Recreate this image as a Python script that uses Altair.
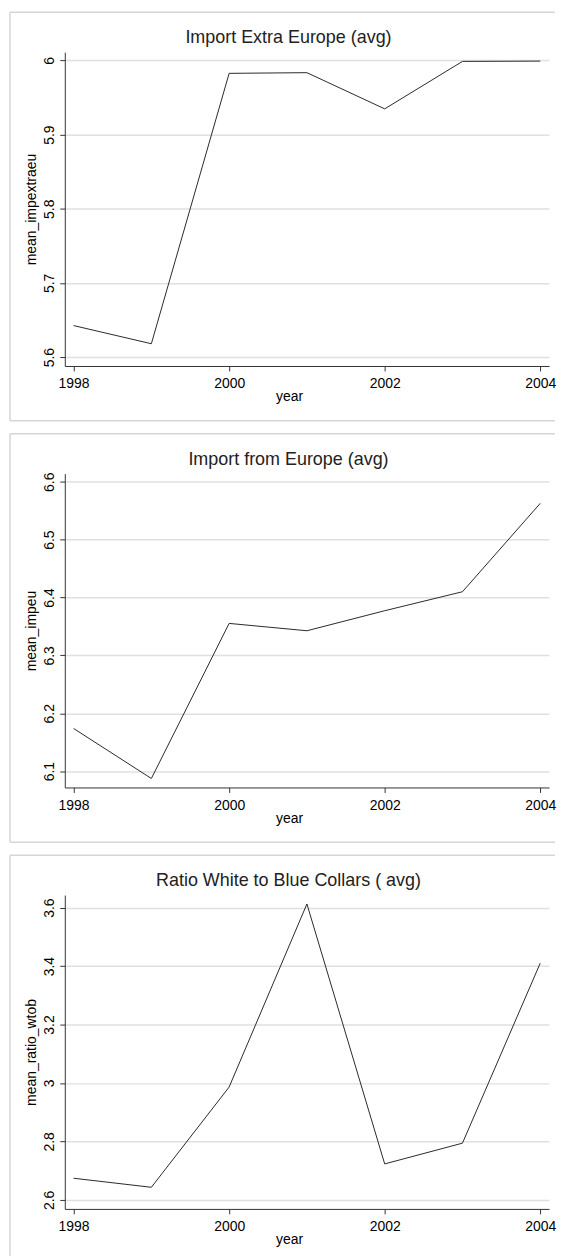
import altair as alt
import pandas as pd

# ---- data ----
years = [1998, 1999, 2000, 2001, 2002, 2003, 2004]
mean_impextraeu = [5.6425, 5.6180, 5.9826, 5.9835, 5.9347, 5.9987, 5.9991]
mean_impeu = [6.1737, 6.0873, 6.3552, 6.3425, 6.3771, 6.4099, 6.5626]
mean_ratio_wtob = [2.674, 2.643, 2.986, 3.6125, 2.723, 2.794, 3.410]

panel_titles = ["Import Extra Europe (avg)", "Import from Europe (avg)",
                "Ratio White to Blue Collars ( avg)"]
y_fields = ["mean_impextraeu", "mean_impeu", "mean_ratio_wtob"]
y_series = [mean_impextraeu, mean_impeu, mean_ratio_wtob]
y_domains = [[5.588, 6.0112], [6.0718, 6.614], [2.569, 3.643]]
y_ticks = [[5.6, 5.7, 5.8, 5.9, 6.0],
           [6.1, 6.2, 6.3, 6.4, 6.5, 6.6],
           [2.6, 2.8, 3.0, 3.2, 3.4, 3.6]]
x_ticks = [1998, 2000, 2002, 2004]
x_domain = [1997.887, 2004.113]

FONT = "Liberation Sans"
W, H = 486, 315
FRAME = "#d6d6d6"


def decorations(title):
    one = pd.DataFrame({"title": [title]})
    base = alt.Chart(one).mark_rule(color=FRAME, strokeWidth=1.5)
    top = base.encode(x=alt.value(-55), x2=alt.value(492), y=alt.value(-40))
    left = base.encode(x=alt.value(-55), y=alt.value(-40), y2=alt.value(370))
    bottom = base.encode(x=alt.value(-55), x2=alt.value(492), y=alt.value(370))
    head = alt.Chart(one).mark_text(
        font=FONT, fontSize=18, color="#222", align="center",
        baseline="middle"
    ).encode(text="title:N", x=alt.value(224.5), y=alt.value(-14))
    return [top, left, bottom, head]


def panel(values, field, title, domain, ticks):
    df = pd.DataFrame({"year": years, field: values})
    line = alt.Chart(df).mark_line(color="#2a2a2a", strokeWidth=1).encode(
        x=alt.X("year:Q",
                scale=alt.Scale(domain=x_domain, nice=False, zero=False),
                axis=alt.Axis(values=x_ticks, format="d", grid=False,
                              labelFontSize=14, labelFont=FONT, labelColor="#000",
                              labelFlush=False, labelPadding=6,
                              tickSize=5, tickColor="#333", domainColor="#333",
                              title="year", titleFont=FONT, titleFontSize=14,
                              titleFontWeight="normal", titleColor="#000",
                              titleX=225, titleY=24, titleBaseline="top",
                              titleAlign="center")),
        y=alt.Y(f"{field}:Q",
                scale=alt.Scale(domain=domain, nice=False, zero=False),
                axis=alt.Axis(values=ticks, format="~g", grid=True,
                              gridColor="#e0e0e0", gridWidth=1.5,
                              labelAngle=270, labelAlign="center",
                              labelBaseline="bottom", labelFlush=False,
                              labelFontSize=14, labelFont=FONT, labelColor="#000",
                              labelPadding=3, tickSize=5, tickColor="#333",
                              domainColor="#333",
                              title=field, titleFont=FONT, titleFontSize=14,
                              titleFontWeight="normal", titleColor="#000",
                              titlePadding=4)),
    )
    return alt.layer(*decorations(title), line).properties(width=W, height=H)


panels = [panel(v, f, t, d, tk) for v, f, t, d, tk in
          zip(y_series, y_fields, panel_titles, y_domains, y_ticks)]

chart = alt.vconcat(*panels, spacing=9).properties(
    padding={"left": 0, "top": 0, "right": 0, "bottom": 0}
).configure_view(stroke="transparent")

chart.save("out.html", embed_options={"renderer": "svg", "actions": False})
